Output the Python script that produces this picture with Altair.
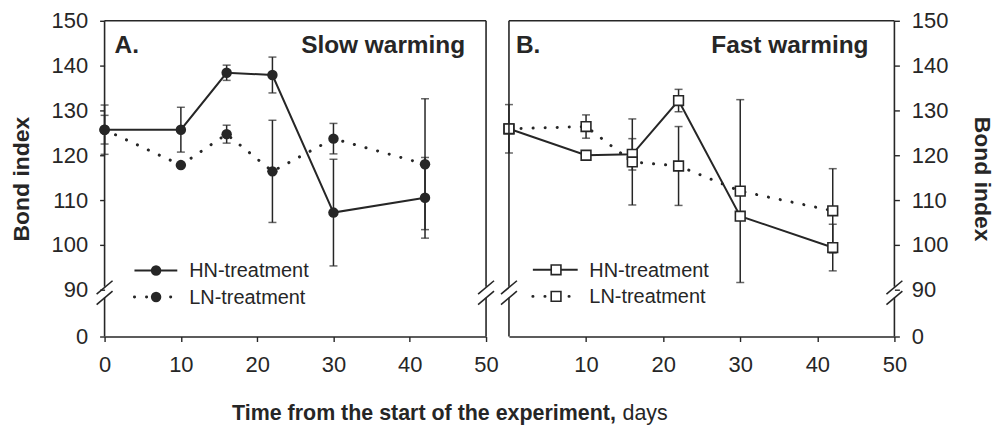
import altair as alt
import pandas as pd

# ---------------- data ----------------
days = [0, 10, 16, 22, 30, 42]

slow_hn = [125.7, 125.7, 138.4, 137.9, 107.2, 110.5]
slow_hn_err = [5.5, 5.0, 1.7, 4.0, 11.9, 9.0]
slow_ln = [125.7, 117.8, 124.7, 116.4, 123.7, 118.0]
slow_ln_err = [3.2, 0.0, 2.0, 11.4, 3.4, 14.6]

fast_hn = [125.9, 120.0, 120.2, 132.2, 106.4, 99.4]
fast_hn_err = [5.4, 0.0, 3.5, 2.5, 0.0, 5.2]
fast_ln = [125.9, 126.4, 118.5, 117.6, 112.0, 107.6]
fast_ln_err = [0.0, 2.6, 9.6, 8.8, 20.4, 9.4]

series_names = ["HN-treatment", "LN-treatment"]
x_ticks = [0, 10, 20, 30, 40, 50]
y_ticks = [90, 100, 110, 120, 130, 140, 150]
Y_BREAK_BOTTOM = 79.55   # position standing for "0" below the axis break

# ---------------- styling ----------------
FONT = "Liberation Sans"
INK = "#262626"
W1, W2, H = 383, 387, 317
DOTS = [0.1, 12]


def frame(hn, hn_err, ln, ln_err):
    rows = []
    for name, vals, errs in ((series_names[0], hn, hn_err), (series_names[1], ln, ln_err)):
        for d, v, e in zip(days, vals, errs):
            rows.append({"day": d, "value": v, "err": e, "series": name,
                         "lo": v - e, "hi": v + e})
    return pd.DataFrame(rows)


def x_enc(labels):
    return alt.X("day:Q",
                 scale=alt.Scale(domain=[0, 50], nice=False, zero=False),
                 axis=alt.Axis(values=labels, title=None, grid=False,
                               labelFont=FONT, labelFontSize=22, labelColor=INK,
                               labelPadding=13, tickSize=5, tickWidth=1.4,
                               tickColor=INK, domainColor=INK, domainWidth=1.6,
                               labelFlush=False))


def y_axis(orient):
    return alt.Axis(orient=orient, values=[Y_BREAK_BOTTOM] + y_ticks,
                    labelExpr="datum.value < 85 ? '0' : datum.label",
                    title="Bond index", titleFont=FONT, titleFontSize=23,
                    titleFontWeight="bold", titleColor=INK,
                    titlePadding=18 if orient == "left" else 22,
                    grid=False, domain=False,
                    labelFont=FONT, labelFontSize=22, labelColor=INK,
                    labelPadding=12, tickSize=5, tickWidth=1.4, tickColor=INK)


def y_enc(field, orient):
    return alt.Y(f"{field}:Q",
                 scale=alt.Scale(domain=[Y_BREAK_BOTTOM, 150], nice=False, zero=False),
                 axis=y_axis(orient))


def border(xpix):
    """A panel side drawn with a broken-axis gap and two slashes."""
    upper = alt.Chart().mark_rule(color=INK, strokeWidth=1.6).encode(
        x=alt.value(xpix), y=alt.value(0), y2=alt.value(267))
    lower = alt.Chart().mark_rule(color=INK, strokeWidth=1.6).encode(
        x=alt.value(xpix), y=alt.value(278), y2=alt.value(H))
    s1 = alt.Chart().mark_rule(color=INK, strokeWidth=1.6).encode(
        x=alt.value(xpix - 8), x2=alt.value(xpix + 8),
        y=alt.value(274.5), y2=alt.value(261))
    s2 = alt.Chart().mark_rule(color=INK, strokeWidth=1.6).encode(
        x=alt.value(xpix - 8), x2=alt.value(xpix + 8),
        y=alt.value(285), y2=alt.value(271.5))
    return [upper, lower, s1, s2]


def legend_rows(x_line0, x_line1, x_mark, x_text, y1, y2, shape, filled):
    out = []
    for name, yy, dash in ((series_names[0], y1, None), (series_names[1], y2, DOTS)):
        kw = dict(color=INK, strokeWidth=2 if dash is None else 3)
        if dash is not None:
            kw.update(strokeDash=dash, strokeCap="round")
        out.append(alt.Chart().mark_rule(**kw).encode(
            x=alt.value(x_line0), x2=alt.value(x_line1), y=alt.value(yy)))
        if filled:
            pm = alt.Chart().mark_point(shape=shape, filled=True, size=110, color=INK, opacity=1)
        else:
            pm = alt.Chart().mark_point(shape=shape, filled=True, size=95, fill="white",
                                        stroke=INK, strokeWidth=1.6, opacity=1)
        out.append(pm.encode(x=alt.value(x_mark), y=alt.value(yy)))
        out.append(alt.Chart().mark_text(text=name, font=FONT, fontSize=20, color=INK,
                                         align="left", baseline="middle").encode(
            x=alt.value(x_text), y=alt.value(yy + 1)))
    return out


def panel(df, width, orient, labels, shape, filled, letter, title, pos, extra=()):
    X = x_enc(labels)
    base = alt.Chart(df)
    err = df[df["err"] > 0]
    bars = alt.Chart(err).mark_rule(color=INK, strokeWidth=1.5).encode(
        x=X, y=y_enc("lo", orient), y2="hi:Q")
    cap_lo = alt.Chart(err).mark_tick(color=INK, orient="horizontal", size=8,
                                      thickness=1.5).encode(x=X, y=y_enc("lo", orient))
    cap_hi = alt.Chart(err).mark_tick(color=INK, orient="horizontal", size=8,
                                      thickness=1.5).encode(x=X, y=y_enc("hi", orient))
    hn_line = base.transform_filter(alt.datum.series == series_names[0]).mark_line(
        color=INK, strokeWidth=2).encode(x=X, y=y_enc("value", orient))
    ln_line = base.transform_filter(alt.datum.series == series_names[1]).mark_line(
        color=INK, strokeWidth=3, strokeDash=DOTS, strokeCap="round").encode(
        x=X, y=y_enc("value", orient))
    if filled:
        pts = base.mark_point(shape=shape, filled=True, size=110, color=INK, opacity=1)
    else:
        pts = base.mark_point(shape=shape, filled=True, size=95, fill="white",
                              stroke=INK, strokeWidth=1.6, opacity=1)
    pts = pts.encode(x=X, y=y_enc("value", orient))

    top = alt.Chart().mark_rule(color=INK, strokeWidth=1.6).encode(
        x=alt.value(0), x2=alt.value(width), y=alt.value(0))
    sides = border(0) + border(width)
    txt_a = alt.Chart().mark_text(text=letter, font=FONT, fontSize=24.5, fontWeight="bold",
                                  color=INK, align="left", baseline="middle").encode(
        x=alt.value(pos["letter_x"]), y=alt.value(25))
    txt_t = alt.Chart().mark_text(text=title, font=FONT, fontSize=24.5, fontWeight="bold",
                                  color=INK, align="right", baseline="middle").encode(
        x=alt.value(pos["title_x"]), y=alt.value(25))
    leg = legend_rows(pos["l0"], pos["l1"], pos["m"], pos["t"],
                      pos["y1"], pos["y2"], shape, filled)
    layers = [bars, cap_lo, cap_hi, hn_line, ln_line, pts, top] + sides + [txt_a, txt_t] + leg + list(extra)
    return alt.layer(*layers).properties(width=width, height=H)


xtitle_bold = alt.Chart().mark_text(
    text="Time from the start of the experiment,", font=FONT, fontSize=21.5,
    fontWeight="bold", color=INK, align="left", baseline="middle").encode(
    x=alt.value(128), y=alt.value(395))
xtitle_reg = alt.Chart().mark_text(
    text="days", font=FONT, fontSize=21.5, color=INK, align="left",
    baseline="middle").encode(x=alt.value(520), y=alt.value(395))

left = panel(frame(slow_hn, slow_hn_err, slow_ln, slow_ln_err), W1, "left", x_ticks,
             "circle", True, "A.", "Slow warming",
             dict(letter_x=10, title_x=362, l0=30, l1=73, m=51.7, t=85, y1=250.7, y2=277.3),
             extra=(xtitle_bold, xtitle_reg))
right = panel(frame(fast_hn, fast_hn_err, fast_ln, fast_ln_err), W2, "right", x_ticks[1:],
              "square", False, "B.", "Fast warming",
              dict(letter_x=7, title_x=361, l0=24, l1=69, m=47.3, t=80.7, y1=250, y2=276.7))

chart = alt.hconcat(left, right, spacing=23, bounds="flush").properties(
    padding={"left": 10, "top": 9, "right": 5, "bottom": 5}
).configure_view(stroke=None).configure_axis(grid=False)

chart.save("out.html", embed_options={"renderer": "svg", "actions": False})
